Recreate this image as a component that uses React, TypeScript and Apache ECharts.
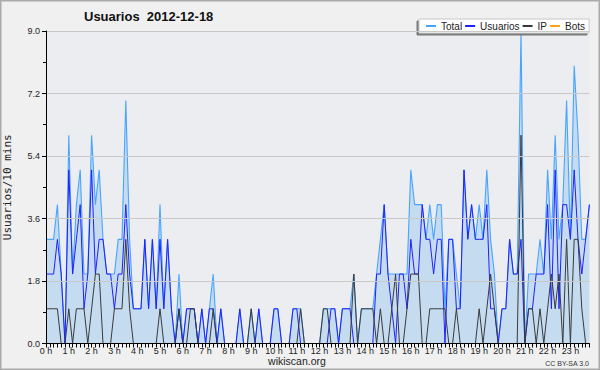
import React, { useEffect, useRef } from "react";
import * as echarts from "echarts";

const hourLabels = ["0 h","1 h","2 h","3 h","4 h","5 h","6 h","7 h","8 h","9 h","10 h","11 h","12 h","13 h","14 h","15 h","16 h","17 h","18 h","19 h","20 h","21 h","22 h","23 h"];
const yTicks = [0, 1.8, 3.6, 5.4, 7.2, 9.0];

const total = [
  3,3,3,4,2,0, 6,2,4,5,2,2, 6,4,5,3,2,2, 2,3,3,7,3,1,
  1,1,3,1,3,1, 4,1,3,1,0,2, 0,1,1,1,0,1, 0,1,2,0,1,0,
  0,0,0,1,0,0, 1,0,1,0,0,0, 1,1,0,0,0,1, 1,1,0,0,0,0,
  0,1,1,1,1,0, 1,1,1,2,0,1, 1,1,1,2,3,4, 2,2,2,2,2,2,
  5,4,4,4,3,4, 3,4,4,1,3,3, 2,1,5,3,4,3, 4,3,5,3,2,0,
  1,1,3,2,2,9, 0,2,2,2,3,2, 5,3,6,3,4,7, 3,8,6,3,3,4
];
const usuarios = [
  2,2,2,3,2,0, 5,2,3,4,1,2, 5,2,3,3,2,2, 1,2,2,4,2,1,
  1,1,3,1,3,1, 3,1,3,1,0,1, 0,1,1,1,0,1, 0,1,1,0,1,0,
  0,0,0,1,0,0, 0,0,1,0,0,0, 1,1,0,0,0,1, 1,0,0,0,0,0,
  0,0,0,1,1,0, 1,1,1,0,0,0, 0,0,0,2,2,4, 2,1,0,2,2,1,
  3,2,2,4,3,3, 2,3,3,0,3,3, 1,1,5,3,4,3, 3,3,4,1,1,0,
  1,1,3,2,2,3, 0,1,1,2,2,2, 4,1,5,1,4,4, 3,5,3,2,3,4
];
const ip = [
  1,1,1,1,0,0, 1,0,1,1,1,0, 1,2,2,0,0,0, 1,1,1,3,1,0,
  0,0,0,0,0,0, 1,0,0,0,0,1, 0,0,1,1,0,0, 0,0,1,0,0,0,
  0,0,0,0,0,0, 1,0,0,0,0,0, 0,0,0,0,0,0, 0,1,0,0,0,0,
  0,1,1,0,0,0, 0,0,0,2,0,1, 1,1,1,0,1,0, 0,1,2,0,0,1,
  2,2,2,0,0,1, 1,1,1,1,0,0, 1,0,0,0,0,0, 1,0,1,2,1,0,
  0,0,0,0,0,6, 0,1,1,0,1,0, 1,2,1,2,0,3, 0,3,3,1,0,0
];
const bots = [
  0,0,0,0,0,0, 0,0,0,0,0,0, 0,0,0,0,0,0, 0,0,0,0,0,0,
  0,0,0,0,0,0, 0,0,0,0,0,0, 0,0,0,0,0,0, 0,0,0,0,0,0,
  0,0,0,0,0,0, 0,0,0,0,0,0, 0,0,0,0,0,0, 0,0,0,0,0,0,
  0,0,0,0,0,0, 0,0,0,0,0,0, 0,0,0,0,0,0, 0,0,0,0,0,0,
  0,0,0,0,0,0, 0,0,0,0,0,0, 0,0,0,0,0,0, 0,0,0,0,0,0,
  0,0,0,0,0,0, 0,0,0,0,0,0, 0,0,0,0,0,0, 0,0,0,0,0,0
];

const categories: string[] = [];
for (let h = 0; h < 24; h++) {
  for (let m = 0; m < 6; m++) categories.push(h + ":" + m + "0");
}

const SANS = "'Liberation Sans', Arial, sans-serif";

const C_TOTAL = "#48a4ff";
const C_USU = "#2020ff";
const C_IP = "#3a3a3a";
const C_BOTS = "#ffa31a";

export default function App() {
  const ref = useRef<HTMLDivElement>(null);
  useEffect(() => {
    if (!ref.current) return;
    const chart = echarts.init(ref.current, null, { renderer: "svg" });
    chart.setOption({
      animation: false,
      backgroundColor: "#f0f0f0",
      title: {
        text: "Usuarios  2012-12-18",
        left: 84,
        top: 10,
        padding: 0,
        textStyle: { fontFamily: SANS, fontWeight: "bold", fontSize: 13, color: "#111" },
      },
      legend: {
        left: 419,
        top: 19,
        padding: [2, 4, 2, 7],
        itemGap: 3,
        itemWidth: 10,
        itemHeight: 2,
        icon: "rect",
        backgroundColor: "#ffffff",
        borderColor: "#c8c8c8",
        borderWidth: 1,
        shadowColor: "#7a7a7a",
        shadowBlur: 0,
        shadowOffsetX: -2,
        shadowOffsetY: 2,
        textStyle: { fontFamily: SANS, fontSize: 10, color: "#222" },
        data: [
          { name: "Total", itemStyle: { color: C_TOTAL } },
          { name: "Usuarios", itemStyle: { color: C_USU } },
          { name: "IP", itemStyle: { color: C_IP } },
          { name: "Bots", itemStyle: { color: C_BOTS } },
        ],
      },
      grid: {
        left: 46,
        top: 31,
        width: 543.4,
        height: 312.5,
        outerBoundsMode: "none",
        containLabel: false,
        show: true,
        backgroundColor: "#ecedf0",
        borderWidth: 0,
      },
      xAxis: {
        type: "category",
        data: categories,
        boundaryGap: false,
        z: 10,
        axisLine: { lineStyle: { color: "#000", width: 1 } },
        axisTick: { interval: 0, length: 4, lineStyle: { color: "#000" } },
        axisLabel: {
          interval: 5,
          margin: 3,
          fontSize: 9,
          fontFamily: SANS,
          color: "#222",
          formatter: (_v: string, i: number) => hourLabels[Math.floor(i / 6)],
        },
        splitLine: { show: false },
      },
      yAxis: {
        type: "value",
        min: 0,
        max: 9,
        interval: 1.8,
        z: 10,
        name: "Usuarios/10 mins",
        nameLocation: "middle",
        nameGap: 33,
        nameTextStyle: { fontFamily: "'DejaVu Sans Mono', monospace", fontSize: 11, color: "#222" },
        axisLine: { show: true, lineStyle: { color: "#000" } },
        axisTick: { show: true, length: 4, lineStyle: { color: "#000" } },
        minorTick: { show: true, splitNumber: 2, length: 3, lineStyle: { color: "#000" } },
        axisLabel: {
          margin: 6,
          fontSize: 9,
          fontFamily: SANS,
          color: "#222",
          formatter: (v: number) => {
            const t = yTicks.find((y) => Math.abs(y - v) < 1e-6);
            return (t !== undefined ? t : v).toFixed(1);
          },
        },
        splitLine: { lineStyle: { color: "#c9c9c9", width: 1 } },
      },
      series: [
        {
          name: "Total",
          type: "line",
          data: total,
          showSymbol: false,
          z: 2,
          lineStyle: { color: C_TOTAL, width: 1.1 },
          itemStyle: { color: C_TOTAL },
          areaStyle: { color: "#c5dcf0", opacity: 1 },
        },
        {
          name: "Usuarios",
          type: "line",
          data: usuarios,
          showSymbol: false,
          z: 3,
          lineStyle: { color: C_USU, width: 1 },
          itemStyle: { color: C_USU },
        },
        {
          name: "IP",
          type: "line",
          data: ip,
          showSymbol: false,
          z: 4,
          lineStyle: { color: C_IP, width: 1 },
          itemStyle: { color: C_IP },
        },
        {
          name: "Bots",
          type: "line",
          data: bots,
          showSymbol: false,
          z: 1,
          lineStyle: { color: C_BOTS, width: 1 },
          itemStyle: { color: C_BOTS },
        },
      ],
      graphic: [
        {
          type: "rect",
          shape: { x: 0.75, y: 0.75, width: 598.5, height: 368.5 },
          style: { fill: "none", stroke: "#aaaaaa", lineWidth: 1.5 },
          silent: true,
        },
        {
          type: "text",
          x: 297,
          y: 361,
          style: {
            text: "wikiscan.org",
            fontFamily: SANS,
            fontSize: 10.5,
            fill: "#222",
            textAlign: "center",
            textVerticalAlign: "middle",
          },
        },
        {
          type: "text",
          x: 589,
          y: 363,
          style: {
            text: "CC BY-SA 3.0",
            fontFamily: SANS,
            fontSize: 7,
            fill: "#333",
            textAlign: "right",
            textVerticalAlign: "middle",
          },
        },
      ],
    });
    return () => chart.dispose();
  }, []);
  return (
    <div
      ref={ref}
      style={{ position: "fixed", left: 0, top: 0, width: 600, height: 370 }}
    />
  );
}
